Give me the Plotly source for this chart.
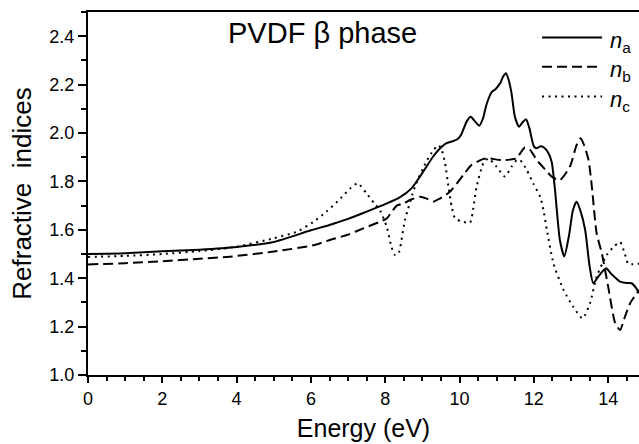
import plotly.graph_objects as go

# ---- data ----
energy_a = [0, 1, 2, 3, 4, 5, 6, 6.5, 7, 7.5, 8.0, 8.4, 8.7, 9.0, 9.3, 9.5, 9.65, 9.8, 9.95,
            10.05, 10.19, 10.3, 10.42, 10.53, 10.63, 10.73, 10.87, 10.96, 11.09, 11.18, 11.25,
            11.32, 11.4, 11.49, 11.6, 11.7, 11.79, 11.88, 12.0, 12.08, 12.18, 12.27, 12.38,
            12.48, 12.57, 12.7, 12.82, 12.95, 13.05, 13.15, 13.25, 13.38, 13.5, 13.6, 13.75,
            13.94, 14.1, 14.32, 14.5, 14.63, 14.75, 14.83]
n_a = [1.500, 1.503, 1.511, 1.518, 1.529, 1.550, 1.598, 1.620, 1.645, 1.675, 1.706, 1.735,
       1.770, 1.835, 1.905, 1.940, 1.958, 1.965, 1.975, 1.995, 2.047, 2.067, 2.047, 2.030,
       2.060, 2.120, 2.170, 2.180, 2.205, 2.235, 2.247, 2.220, 2.164, 2.067, 2.026, 2.045,
       2.057, 2.020, 1.945, 1.937, 1.945, 1.940, 1.920, 1.880, 1.764, 1.558, 1.490, 1.580,
       1.680, 1.716, 1.680, 1.600, 1.450, 1.379, 1.410, 1.441, 1.415, 1.386, 1.380, 1.379,
       1.360, 1.338]

energy_b = [0, 1, 2, 3, 3.82, 5, 6.06, 6.51, 7.0, 7.41, 8.04, 8.2, 8.31, 8.49, 8.67, 8.94,
            9.1, 9.29, 9.48, 9.74, 10.1, 10.3, 10.46, 10.65, 10.82, 11.0, 11.18, 11.35, 11.54,
            11.65, 11.76, 11.9, 12.08, 12.3, 12.48, 12.7, 12.97, 13.15, 13.26, 13.35, 13.47,
            13.56, 13.69, 13.83, 14.0, 14.19, 14.32, 14.45, 14.59, 14.83]
n_b = [1.457, 1.462, 1.470, 1.480, 1.489, 1.510, 1.536, 1.558, 1.580, 1.606, 1.647, 1.680,
       1.700, 1.709, 1.723, 1.737, 1.730, 1.716, 1.730, 1.757, 1.826, 1.865, 1.880, 1.893,
       1.895, 1.890, 1.888, 1.890, 1.895, 1.920, 1.940, 1.930, 1.888, 1.850, 1.820, 1.806,
       1.861, 1.950, 1.978, 1.950, 1.890, 1.780, 1.585, 1.503, 1.365, 1.214, 1.186, 1.240,
       1.296, 1.351]

energy_c = [0, 1, 2, 3, 4, 5, 5.62, 6.06, 6.42, 6.8, 7.05, 7.26, 7.5, 7.7, 7.86, 8.04, 8.15,
            8.25, 8.35, 8.53, 8.8, 9.1, 9.3, 9.43, 9.52, 9.61, 9.7, 9.79, 9.88, 10.05, 10.28,
            10.37, 10.46, 10.64, 10.78, 11.0, 11.22, 11.4, 11.54, 11.63, 11.81, 11.99, 12.17,
            12.26, 12.35, 12.53, 12.8, 13.06, 13.31, 13.51, 13.69, 13.96, 14.15, 14.32, 14.45,
            14.54, 14.83]
n_c = [1.488, 1.492, 1.500, 1.512, 1.530, 1.565, 1.592, 1.632, 1.675, 1.730, 1.770, 1.792,
       1.750, 1.710, 1.680, 1.613, 1.540, 1.497, 1.500, 1.640, 1.778, 1.880, 1.930, 1.950,
       1.930, 1.875, 1.780, 1.695, 1.647, 1.635, 1.629, 1.690, 1.778, 1.875, 1.895, 1.860,
       1.820, 1.861, 1.888, 1.888, 1.847, 1.790, 1.737, 1.680, 1.600, 1.460, 1.351, 1.282,
       1.234, 1.296, 1.406, 1.496, 1.530, 1.550, 1.500, 1.460, 1.460]

series_names = ["n_a", "n_b", "n_c"]
legend_labels = ["<i>n</i><sub>a</sub>", "<i>n</i><sub>b</sub>", "<i>n</i><sub>c</sub>"]
x_ticks = [0, 2, 4, 6, 8, 10, 12, 14]
y_ticks = [1.0, 1.2, 1.4, 1.6, 1.8, 2.0, 2.2, 2.4]
title_text = "PVDF β phase"
x_title = "Energy (eV)"
y_title = "Refractive  indices"

# ---- styles ----
FONT = "Liberation Sans, Arial, Helvetica, sans-serif"
dashes = ["solid", "10px,5px", "2px,4.5px"]
LW = 2

fig = go.Figure()
for xs, ys, name, dash in zip([energy_a, energy_b, energy_c], [n_a, n_b, n_c], series_names, dashes):
    fig.add_trace(go.Scatter(x=xs, y=ys, mode="lines", name=name, showlegend=False,
                             line=dict(color="black", width=LW, dash=dash,
                                       shape="spline", smoothing=0.6)))

# manual legend (key lines + labels)
leg_y = [0.930, 0.849, 0.767]
for yy, dash, lab in zip(leg_y, dashes, legend_labels):
    fig.add_shape(type="line", xref="paper", yref="paper", x0=0.824, x1=0.933, y0=yy, y1=yy,
                  line=dict(color="black", width=LW, dash=dash))
    fig.add_annotation(xref="paper", yref="paper", x=0.943, y=yy - 0.012, xanchor="left",
                       yanchor="middle", text=lab, showarrow=False,
                       font=dict(family=FONT, size=22, color="black"))

fig.add_annotation(xref="paper", yref="paper", x=0.425, y=0.942, xanchor="center",
                   yanchor="middle", text=title_text, showarrow=False,
                   font=dict(family=FONT, size=29, color="black"))

fig.update_layout(
    width=639, height=444,
    margin=dict(l=88, r=0, t=12, b=69, autoexpand=False),
    paper_bgcolor="white", plot_bgcolor="white",
    font=dict(family=FONT, color="black"),
    showlegend=False,
)
fig.update_xaxes(
    automargin=False,
    range=[0, 14.83], tickvals=x_ticks, ticktext=[str(v) for v in x_ticks],
    ticks="outside", ticklen=6, tickwidth=1.5, tickcolor="black",
    minor=dict(dtick=0.5, ticks="outside", ticklen=4, tickwidth=1.5, tickcolor="black"),
    showline=True, linecolor="black", linewidth=2, mirror=True,
    showgrid=False, zeroline=False,
    tickfont=dict(family=FONT, size=18, color="black"),
    title=dict(text=x_title, font=dict(family=FONT, size=25, color="black"), standoff=12),
)
fig.update_yaxes(
    automargin=False,
    range=[1.0, 2.5], tickvals=y_ticks, ticktext=[f"{v:.1f}" for v in y_ticks],
    ticks="outside", ticklen=8, tickwidth=1.5, tickcolor="black",
    minor=dict(dtick=0.1, ticks="outside", ticklen=5, tickwidth=1.5, tickcolor="black"),
    showline=True, linecolor="black", linewidth=2, mirror=False,
    showgrid=False, zeroline=False,
    tickfont=dict(family=FONT, size=18, color="black"),
    title=dict(text=y_title, font=dict(family=FONT, size=26, color="black"), standoff=10),
)

fig.write_html("out.html", config={"displayModeBar": False},
               post_script="document.body.style.margin='0px';document.body.style.overflow='hidden';")
